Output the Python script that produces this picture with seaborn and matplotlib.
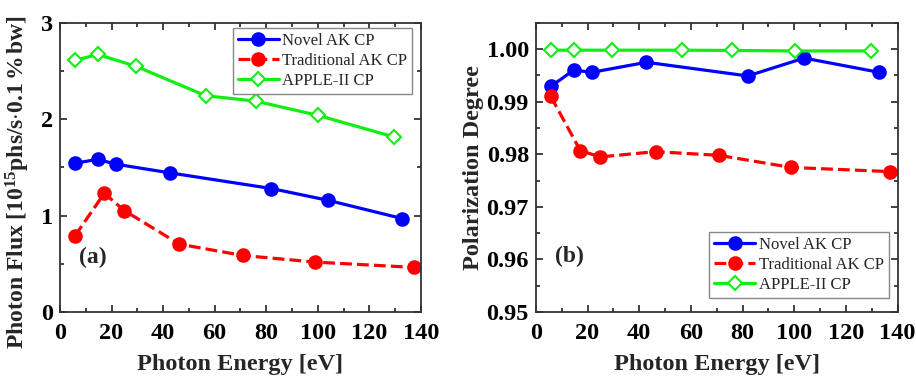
import matplotlib
matplotlib.use("Agg")
import matplotlib.pyplot as plt
import seaborn as sns
from matplotlib.ticker import MultipleLocator, AutoMinorLocator, FormatStrFormatter

# ============================================================
# Data
# ============================================================

novel_energy = [5.8, 14.6, 21.8, 42.8, 82.0, 103.8, 132.7]
trad_energy = [5.8, 17.2, 24.9, 46.3, 70.8, 98.8, 137.2]
apple_energy = [5.8, 14.6, 29.3, 56.5, 75.9, 100.1, 129.6]

novel_flux = [1.543, 1.584, 1.533, 1.443, 1.281, 1.160, 0.970]
trad_flux = [0.79, 1.232, 1.053, 0.704, 0.587, 0.518, 0.463]
apple_flux = [2.61, 2.672, 2.551, 2.244, 2.188, 2.040, 1.816]

novel_pol = [0.9929, 0.9960, 0.9956, 0.9975, 0.9949, 0.9983, 0.9956]
trad_pol = [0.9910, 0.9807, 0.9795, 0.9805, 0.9798, 0.9775, 0.9767]
apple_pol = [0.9998, 0.9998, 0.9998, 0.9998, 0.99975, 0.99965, 0.99965]

series_names = ["Novel AK CP", "Traditional AK CP", "APPLE-II CP"]

# ============================================================
# Theme
# ============================================================

sns.set_theme(style="ticks")

plt.rcParams["font.family"] = ["Liberation Serif", "DejaVu Serif"]
plt.rcParams["mathtext.fontset"] = "custom"
plt.rcParams["mathtext.rm"] = "Liberation Serif:bold"
plt.rcParams["mathtext.it"] = "Liberation Serif:italic:bold"
plt.rcParams["mathtext.bf"] = "Liberation Serif:bold"

fig = plt.figure(figsize=(9.16, 3.77), dpi=100)

ax_a = fig.add_axes([0.0655, 0.1724, 0.394, 0.767])
ax_b = fig.add_axes([0.585, 0.1724, 0.395, 0.767])


def draw_series(ax, ys):
    styles = [
        dict(color="#0000ff", marker="o", linestyle="-", mfc="#0000ff", mec="#0000ff"),
        dict(color="#ff0000", marker="o", linestyle="--", mfc="#ff0000", mec="#ff0000"),
        dict(color="#11ee11", marker="D", linestyle="-", mfc="white", mec="#11ee11"),
    ]
    xs = [novel_energy, trad_energy, apple_energy]

    for x, y, name, st in zip(xs, ys, series_names, styles):
        sns.lineplot(
            x=x,
            y=y,
            ax=ax,
            label=name,
            sort=False,
            estimator=None,
            linewidth=2.3,
            markersize=9 if st["marker"] == "o" else 7.5,
            mew=1.5,
            **st,
        )


def style_axes(ax):
    ax.set_xlim(0, 140)
    ax.xaxis.set_major_locator(MultipleLocator(20))
    ax.xaxis.set_minor_locator(AutoMinorLocator(2))
    ax.yaxis.set_minor_locator(AutoMinorLocator(2))

    ax.tick_params(
        which="both",
        direction="in",
        top=True,
        right=True,
        width=1.2,
        colors="#222222",
    )
    ax.tick_params(which="major", length=5, labelsize=17.5)
    ax.tick_params(axis="x", which="major", pad=8)
    ax.tick_params(axis="y", which="major", pad=5)
    ax.tick_params(which="minor", length=3)

    for label in ax.get_xticklabels() + ax.get_yticklabels():
        label.set_fontweight("bold")
        label.set_color("black")

    for spine in ax.spines.values():
        spine.set_linewidth(1.3)
        spine.set_color("#333333")

    ax.set_xlabel("Photon Energy [eV]", fontsize=17.5, fontweight="bold", labelpad=7)


def add_legend(ax, loc, anchor):
    ax.legend(
        loc=loc,
        bbox_to_anchor=anchor,
        fontsize=12,
        frameon=True,
        fancybox=False,
        edgecolor="#888888",
        framealpha=1,
        handlelength=2.45,
        handletextpad=0.2,
        borderpad=0.3,
        labelspacing=0.25,
        borderaxespad=0.0,
    )


# ============================================================
# (a) Photon flux
# ============================================================

draw_series(ax_a, [novel_flux, trad_flux, apple_flux])
ax_a.set_ylim(0, 3)
ax_a.yaxis.set_major_locator(MultipleLocator(1))
style_axes(ax_a)

ax_a.set_ylabel(
    r"Photon Flux [10$^{15}$phs/s$\cdot$0.1$\,\mathit{\%}\,$bw]",
    fontsize=17,
    fontweight="bold",
)
ax_a.yaxis.set_label_coords(-0.078, 0.45)

ax_a.text(12.9, 0.57, "(a)", fontsize=17, fontweight="bold", ha="center", va="center")

add_legend(ax_a, "upper right", (0.975, 0.983))

# ============================================================
# (b) Polarization degree
# ============================================================

draw_series(ax_b, [novel_pol, trad_pol, apple_pol])
ax_b.set_ylim(0.95, 1.005)
ax_b.yaxis.set_major_locator(MultipleLocator(0.01))
ax_b.yaxis.set_major_formatter(FormatStrFormatter("%.2f"))
style_axes(ax_b)

ax_b.set_ylabel("Polarization Degree", fontsize=17.5, fontweight="bold", labelpad=2)

ax_b.text(12.8, 0.9606, "(b)", fontsize=17, fontweight="bold", ha="center", va="center")

add_legend(ax_b, "lower right", (0.975, 0.048))

fig.savefig("out.png", dpi=100)
plt.close(fig)
